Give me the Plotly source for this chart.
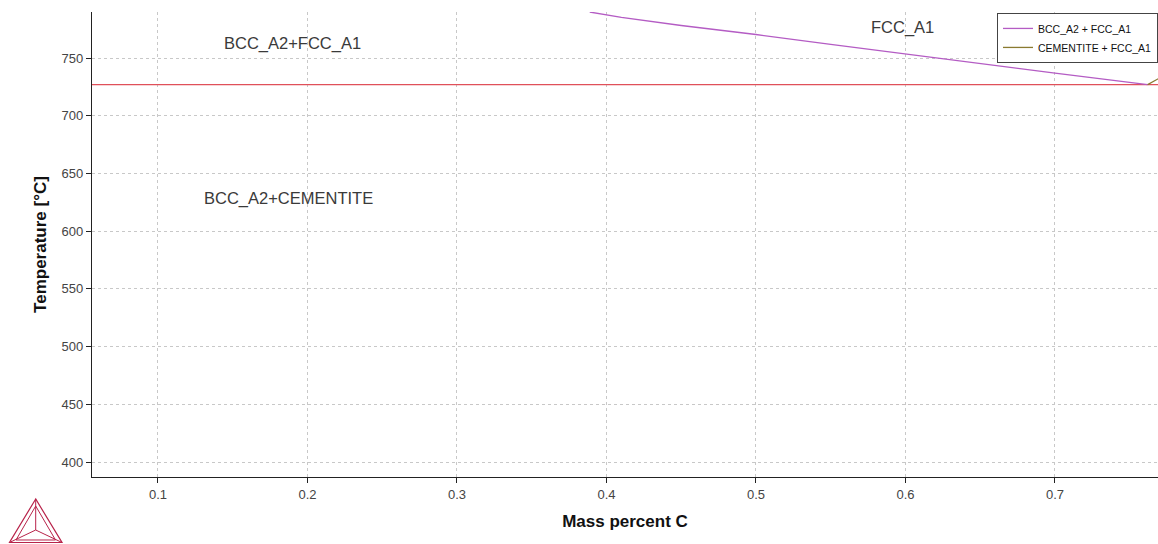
import plotly.graph_objects as go

# ---- data ----
a3_x = [0.3888, 0.400, 0.410, 0.450, 0.500, 0.550, 0.600, 0.650, 0.700, 0.762]
a3_t = [790.0, 787.3, 785.4, 778.3, 770.5, 762.0, 753.5, 745.3, 737.0, 727.0]
acm_x = [0.762, 0.775]
acm_t = [727.0, 736.5]
eutectoid_x = [0.0, 0.80]
eutectoid_t = [727.0, 727.0]

labels = ["BCC_A2+FCC_A1", "FCC_A1", "BCC_A2+CEMENTITE"]
label_x = [0.190, 0.598, 0.187]
label_t = [763.0, 777.0, 628.0]

x_range = [0.0559, 0.7689]
y_range = [387, 790]

W, H = 1158, 544
ML, MR, MT, MB = 92, 0, 12, 67

fig = go.Figure()
fig.add_trace(go.Scatter(x=eutectoid_x, y=eutectoid_t, mode="lines",
                         line=dict(color="#e0505a", width=1.2), showlegend=False, hoverinfo="skip"))
fig.add_trace(go.Scatter(x=a3_x, y=a3_t, mode="lines", name="BCC_A2 + FCC_A1",
                         line=dict(color="#b45cc4", width=1.3)))
fig.add_trace(go.Scatter(x=acm_x, y=acm_t, mode="lines", name="CEMENTITE + FCC_A1",
                         line=dict(color="#8a7a30", width=1.3)))

for txt, lx, ly in zip(labels, label_x, label_t):
    fig.add_annotation(x=lx, y=ly, text=txt, showarrow=False,
                       font=dict(family="Liberation Sans, Arial", size=16.5, color="#3a3a3a"))

# logo (decoration) in pixel -> paper coords
pw, ph = W - ML - MR, H - MT - MB
def P(px, py):
    return (px - ML) / pw, (H - MB - py) / ph

def path(points):
    s = ""
    for i, (a, b) in enumerate(points):
        x, y = P(a, b)
        s += ("M" if i == 0 else "L") + f"{x:.5f},{y:.5f} "
    return s + "Z"

logo_col = "#b8234a"
apex, bl, br, ctr = (35.7, 499), (9.5, 542.5), (62, 542.5), (35.7, 530)
fig.add_shape(type="path", xref="paper", yref="paper", path=path([apex, bl, br]),
              line=dict(color=logo_col, width=1.2))
fig.add_shape(type="path", xref="paper", yref="paper",
              path=path([(35.7, 506), (16, 540), (55.5, 540)]),
              line=dict(color=logo_col, width=1.0))
for v in (apex, bl, br):
    x0, y0 = P(*ctr)
    x1, y1 = P(*v)
    fig.add_shape(type="line", xref="paper", yref="paper", x0=x0, y0=y0, x1=x1, y1=y1,
                  line=dict(color=logo_col, width=1.0))

axis_common = dict(showgrid=True, gridcolor="#c8c8c8", griddash="dot", gridwidth=1,
                   showline=True, linecolor="#222", linewidth=1.3, ticks="outside",
                   ticklen=5, tickcolor="#222", zeroline=False,
                   tickfont=dict(family="Liberation Sans, Arial", size=13, color="#444"))

fig.update_layout(
    width=W, height=H,
    margin=dict(l=ML, r=MR, t=MT, b=MB),
    plot_bgcolor="white", paper_bgcolor="white",
    xaxis=dict(range=x_range, tickvals=[0.1, 0.2, 0.3, 0.4, 0.5, 0.6, 0.7],
               ticktext=["0.1", "0.2", "0.3", "0.4", "0.5", "0.6", "0.7"],
               title=dict(text="<b>Mass percent C</b>", standoff=14,
                          font=dict(family="Liberation Sans, Arial", size=17, color="#111")),
               **axis_common),
    yaxis=dict(range=y_range, tickvals=[400, 450, 500, 550, 600, 650, 700, 750],
               title=dict(text="<b>Temperature [°C]</b>", standoff=10,
                          font=dict(family="Liberation Sans, Arial", size=17, color="#111")),
               **axis_common),
    legend=dict(x=1, y=0.998, xanchor="right", yanchor="top", bgcolor="white",
                bordercolor="#444", borderwidth=1,
                font=dict(family="Liberation Sans, Arial", size=10.5, color="#111")),
    showlegend=True,
)

fig.write_html("out.html", config={"displayModeBar": False},
               post_script="document.body.style.margin='0';document.body.style.padding='0';document.body.style.overflow='hidden';")
